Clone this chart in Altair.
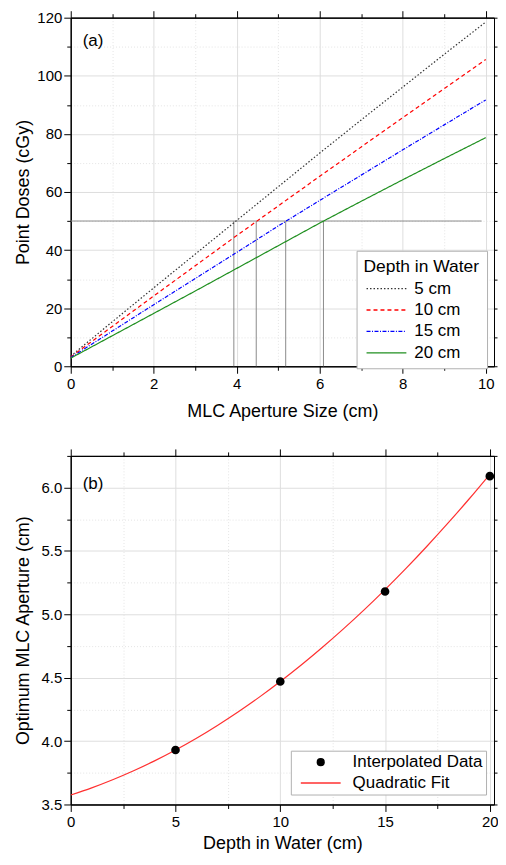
import altair as alt
import pandas as pd

# ---------------- data ----------------
aperture_cm = [0, 1, 2, 3, 4, 5, 6, 7, 8, 9, 10]
dose_5cm = [3.5, 15.3, 27.0, 38.6, 50.2, 61.8, 73.4, 84.8, 96.1, 107.4, 118.5]
dose_10cm = [3.2, 13.7, 24.2, 34.6, 45.0, 55.2, 65.4, 75.5, 85.6, 95.6, 105.6]
dose_15cm = [3.0, 12.1, 21.2, 30.2, 39.2, 48.3, 57.1, 65.8, 74.5, 83.1, 91.7]
dose_20cm = [2.8, 10.5, 18.2, 25.9, 33.7, 41.5, 49.3, 56.8, 64.2, 71.5, 78.7]
depth_labels = ["5 cm", "10 cm", "15 cm", "20 cm"]

target_dose = [50]
target_line_x = [0, 9.9]

depth_cm = [5, 10, 15, 20]
optimum_aperture = [3.93, 4.47, 5.18, 6.09]

fit_depth = [0, 1, 2, 3, 4, 5, 6, 7, 8, 9, 10, 11, 12, 13, 14, 15, 16, 17, 18, 19, 20]
fit_aperture = [3.575, 3.631, 3.695, 3.766, 3.844, 3.930, 4.023, 4.124, 4.232, 4.347,
                 4.470, 4.600, 4.738, 4.883, 5.035, 5.195, 5.362, 5.537, 5.719, 5.908, 6.105]
fit_series = ["Interpolated Data", "Quadratic Fit"]

# ---------------- styling ----------------
FONT = "Liberation Sans"
line_colors = ["#333333", "#ff0000", "#0000ff", "#1f8f1f"]
line_dashes = [[1.5, 2], [4, 3], [4, 1.5, 1, 1.5], [1, 0]]
fit_colors = ["black", "#ff3030"]
fit_shapes = ["circle", "stroke"]
fit_sizes = [45, 1600]
MAJ_GRID = "#dedede"
MIN_GRID = "#e4e4e4"
W = 425
H_TOP, H_BOT = 350, 350


def axis(orient, values, tick, labels=False, title=None, grid=False, dash=None,
         fmt=None, tpad=8, lpad=3):
    kw = dict(orient=orient, values=values, tickSize=tick, labels=labels, grid=grid,
              domainColor="black", tickColor="black", tickWidth=1, domainWidth=1,
              title=title, labelFlush=False, labelOverlap=False)
    if labels:
        kw.update(labelFontSize=15, labelColor="black", labelPadding=lpad, labelFont=FONT)
    else:
        kw.update(minExtent=0, maxExtent=tick)
    if title:
        kw.update(titleFontSize=18, titleFont=FONT, titleFontWeight="normal",
                  titleColor="black", titlePadding=tpad)
    if grid:
        kw.update(gridColor=MAJ_GRID if dash is None else MIN_GRID, gridWidth=1)
        if dash is not None:
            kw.update(gridDash=dash)
    if fmt:
        kw["format"] = fmt
    return alt.Axis(**kw)


def frame(df, xf, yf, xs, ys, xmaj, xmin, ymaj, ymin, xtitle, ytitle, yfmt=None, ytpad=4, xtpad=8):
    base = alt.Chart(df).mark_point(opacity=0)
    main = base.encode(
        x=alt.X(xf, type="quantitative", scale=xs,
                axis=axis("bottom", xmaj, 7, labels=True, title=xtitle, grid=True, tpad=xtpad)),
        y=alt.Y(yf, type="quantitative", scale=ys,
                axis=axis("left", ymaj, 7, labels=True, title=ytitle, grid=True, fmt=yfmt, tpad=ytpad, lpad=2)),
    )
    minor = base.encode(
        x=alt.X(xf, type="quantitative", scale=xs, axis=axis("bottom", xmin, 4, grid=True, dash=[1, 2])),
        y=alt.Y(yf, type="quantitative", scale=ys, axis=axis("left", ymin, 4, grid=True, dash=[1, 2])),
    )
    top_right = base.encode(
        x=alt.X(xf, type="quantitative", scale=xs, axis=axis("top", xmaj, 7)),
        y=alt.Y(yf, type="quantitative", scale=ys, axis=axis("right", ymaj, 3)),
    )
    top_right_minor = base.encode(
        x=alt.X(xf, type="quantitative", scale=xs, axis=axis("top", xmin, 4)),
        y=alt.Y(yf, type="quantitative", scale=ys, axis=axis("right", ymin, 3)),
    )
    return [main, minor, top_right, top_right_minor]


# ---------------- panel (a) ----------------
rows = []
for lab, doses in zip(depth_labels, [dose_5cm, dose_10cm, dose_15cm, dose_20cm]):
    for a, d in zip(aperture_cm, doses):
        rows.append({"aperture": a, "dose": d, "depth": lab})
df_a = pd.DataFrame(rows)

xs_a = alt.Scale(domain=[0, 10.2], nice=False, zero=False)
ys_a = alt.Scale(domain=[0, 120], nice=False, zero=False)

leg_a = alt.Legend(title="Depth in Water", orient="none", legendX=287, legendY=234,
                   titleFontSize=17.5, titleFontWeight="normal", titleFont=FONT, titleColor="black",
                   labelFontSize=17, labelFont=FONT, labelColor="black",
                   symbolType="stroke", symbolSize=1600, symbolStrokeWidth=1.3, clipHeight=17,
                   padding=7, rowPadding=3.5, titlePadding=5, labelOffset=7, symbolOffset=2,
                   strokeColor="#b0b0b0", fillColor="white", cornerRadius=0)

lines_a = alt.Chart(df_a).mark_line(strokeWidth=1.2).encode(
    x=alt.X("aperture:Q", scale=xs_a, axis=None),
    y=alt.Y("dose:Q", scale=ys_a, axis=None),
    color=alt.Color("depth:N", scale=alt.Scale(domain=depth_labels, range=line_colors), legend=leg_a),
    strokeDash=alt.StrokeDash("depth:N", scale=alt.Scale(domain=depth_labels, range=line_dashes), legend=leg_a),
)

df_h = pd.DataFrame({"dose": target_dose, "x0": [target_line_x[0]], "x1": [target_line_x[1]]})
hrule = alt.Chart(df_h).mark_rule(color="#8a8a8a", strokeWidth=1).encode(
    x=alt.X("x0:Q", scale=xs_a, axis=None), x2="x1:Q",
    y=alt.Y("dose:Q", scale=ys_a, axis=None),
)
df_v = pd.DataFrame({"aperture": optimum_aperture, "lo": [0] * 4, "hi": target_dose * 4})
vrules = alt.Chart(df_v).mark_rule(color="#8a8a8a", strokeWidth=1).encode(
    x=alt.X("aperture:Q", scale=xs_a, axis=None),
    y=alt.Y("lo:Q", scale=ys_a, axis=None), y2="hi:Q",
)
lab_a = alt.Chart(pd.DataFrame({"t": ["(a)"]})).mark_text(
    align="left", baseline="middle", fontSize=17, font=FONT, color="black"
).encode(text="t:N", x=alt.value(12), y=alt.value(23))

frame_a = frame(df_a, "aperture", "dose", xs_a, ys_a,
                [0, 2, 4, 6, 8, 10], [1, 3, 5, 7, 9],
                [0, 20, 40, 60, 80, 100, 120], [10, 30, 50, 70, 90, 110],
                "MLC Aperture Size (cm)", "Point Doses (cGy)", ytpad=4, xtpad=11)

panel_a = alt.layer(*frame_a, hrule, vrules, lines_a, lab_a).resolve_axis(
    x="independent", y="independent").properties(width=W, height=H_TOP)

# ---------------- panel (b) ----------------
df_pts = pd.DataFrame({"depth": depth_cm, "aperture": optimum_aperture, "series": fit_series[0]})
df_fit = pd.DataFrame({"depth": fit_depth, "aperture": fit_aperture, "series": fit_series[1]})

xs_b = alt.Scale(domain=[0, 20.2], nice=False, zero=False)
ys_b = alt.Scale(domain=[3.5, 6.25], nice=False, zero=False)

leg_b = alt.Legend(title=None, orient="none", legendX=221, legendY=296,
                   labelFontSize=17, labelFont=FONT, labelColor="black", clipHeight=17,
                   symbolStrokeWidth=1.5, padding=3, rowPadding=3, labelOffset=11, symbolOffset=6,
                   strokeColor="#b0b0b0", fillColor="white", cornerRadius=0)
col_scale = alt.Scale(domain=fit_series, range=fit_colors)

fit_line = alt.Chart(df_fit).mark_line(strokeWidth=1.2, interpolate="monotone").encode(
    x=alt.X("depth:Q", scale=xs_b, axis=None),
    y=alt.Y("aperture:Q", scale=ys_b, axis=None),
    stroke=alt.Stroke("series:N", scale=col_scale, legend=leg_b),
)
pts = alt.Chart(df_pts).mark_point(filled=True, opacity=1).encode(
    x=alt.X("depth:Q", scale=xs_b, axis=None),
    y=alt.Y("aperture:Q", scale=ys_b, axis=None),
    fill=alt.Fill("series:N", scale=col_scale, legend=leg_b),
    stroke=alt.Stroke("series:N", scale=col_scale, legend=leg_b),
    shape=alt.Shape("series:N", scale=alt.Scale(domain=fit_series, range=fit_shapes), legend=leg_b),
    size=alt.Size("series:N", scale=alt.Scale(domain=fit_series, range=fit_sizes), legend=leg_b),
)
lab_b = alt.Chart(pd.DataFrame({"t": ["(b)"]})).mark_text(
    align="left", baseline="middle", fontSize=17, font=FONT, color="black"
).encode(text="t:N", x=alt.value(12), y=alt.value(28))

frame_b = frame(df_fit, "depth", "aperture", xs_b, ys_b,
                [0, 5, 10, 15, 20], [2.5, 7.5, 12.5, 17.5],
                [3.5, 4.0, 4.5, 5.0, 5.5, 6.0], [3.75, 4.25, 4.75, 5.25, 5.75, 6.25],
                "Depth in Water (cm)", "Optimum MLC Aperture (cm)", yfmt=".1f", ytpad=9, xtpad=5)

panel_b = alt.layer(*frame_b, fit_line, pts, lab_b).resolve_axis(
    x="independent", y="independent").properties(width=W, height=H_BOT)

chart = alt.vconcat(panel_a, panel_b, spacing=27).resolve_scale(
    color="independent", strokeDash="independent", stroke="independent",
    fill="independent", shape="independent", size="independent"
).properties(padding={"left": 5, "top": 0, "right": -1, "bottom": 0}).configure(
    font=FONT
).configure_view(stroke="black", strokeWidth=1)

chart.save("out.html", embed_options={"renderer": "svg", "actions": False})
